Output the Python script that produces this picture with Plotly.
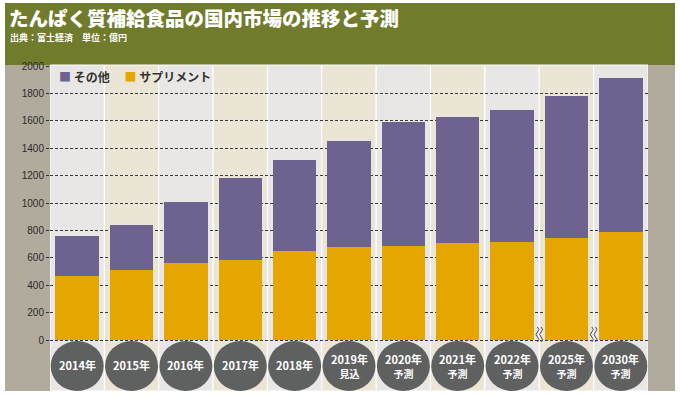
import plotly.graph_objects as go

years = ["2014年", "2015年", "2016年", "2017年", "2018年", "2019年", "2020年",
         "2021年", "2022年", "2025年", "2030年"]
notes = ["", "", "", "", "", "見込", "予測", "予測", "予測", "予測", "予測"]
supplement = [465, 510, 565, 582, 647, 679, 686, 708, 718, 742, 786]
other = [296, 332, 445, 603, 669, 776, 902, 917, 963, 1039, 1126]
yticks = [0, 200, 400, 600, 800, 1000, 1200, 1400, 1600, 1800, 2000]
break_after = [8, 9]  # axis breaks between 2022/2025 and 2025/2030

W, H = 680, 396
ML, MR, MT, MB = 50, 32, 65, 5
PW, PH = W - ML - MR, H - MT - MB

def px_x(p):
    return (p - ML) / PW

def px_y(p):
    return (H - MB - p) / PH

C_OTHER = "#6e6291"
C_SUPP = "#e6a600"
C_OLIVE = "#707b2c"
C_SIDE = "#b1ab9d"
C_COL_A = "#e9e7e5"
C_COL_B = "#ebe5d5"
C_CIRCLE = "#5f6060"
FONT_JP = "Noto Sans CJK JP"

xs = list(range(len(years)))

fig = go.Figure()
fig.add_trace(go.Bar(x=xs, y=supplement, name="サプリメント", marker_color=C_SUPP,
                     marker_line_width=0, width=0.8, hoverinfo="skip"))
fig.add_trace(go.Bar(x=xs, y=other, name="その他", marker_color=C_OTHER,
                     marker_line_width=0, width=0.8, hoverinfo="skip"))

shapes = []
# olive header band
shapes.append(dict(type="rect", xref="paper", yref="paper", x0=px_x(5), x1=px_x(675),
                   y0=px_y(65), y1=px_y(3), fillcolor=C_OLIVE, line_width=0, layer="below"))
# side bands
shapes.append(dict(type="rect", xref="paper", yref="paper", x0=px_x(5), x1=0,
                   y0=0, y1=1, fillcolor=C_SIDE, line_width=0, layer="below"))
shapes.append(dict(type="rect", xref="paper", yref="paper", x0=px_x(648), x1=px_x(675),
                   y0=0, y1=1, fillcolor=C_SIDE, line_width=0, layer="below"))
# column backgrounds
for i in xs:
    shapes.append(dict(type="rect", xref="x", yref="paper", x0=i - 0.5, x1=i + 0.5,
                       y0=0, y1=1, fillcolor=C_COL_A if i % 2 == 0 else C_COL_B,
                       line=dict(color="white", width=1), layer="below"))
# circles
for i in xs:
    shapes.append(dict(type="circle", xref="x", yref="y", xsizemode="pixel", ysizemode="pixel",
                       xanchor=i, yanchor=0, x0=-26.5, x1=26.5, y0=-51, y1=-1,
                       fillcolor=C_CIRCLE, line_width=0, layer="above"))
# break squiggles
for b in break_after:
    for dx in (-1.8, 1.8):
        path = (f"M {dx},-2 Q {dx+3},0.5 {dx},3 Q {dx-3},5.5 {dx},8 "
                f"Q {dx+3},10.5 {dx},13")
        shapes.append(dict(type="path", xref="x", yref="y", xsizemode="pixel",
                           ysizemode="pixel", xanchor=b + 0.5, yanchor=0, path=path,
                           line=dict(color="#4a4a5a", width=1), layer="above"))

annotations = []
annotations.append(dict(xref="paper", yref="paper", x=px_x(7), y=px_y(18), xanchor="left",
                        yanchor="middle", showarrow=False,
                        text="たんぱく質補給食品の国内市場の推移と予測",
                        font=dict(family=FONT_JP, size=19.5, color="white", weight=900)))
annotations.append(dict(xref="paper", yref="paper", x=px_x(8), y=px_y(37), xanchor="left",
                        yanchor="middle", showarrow=False,
                        text="出典：富士経済　単位：億円",
                        font=dict(family=FONT_JP, size=9, color="white", weight=700)))
annotations.append(dict(xref="paper", yref="paper", x=px_x(57), y=px_y(76), xanchor="left",
                        yanchor="middle", showarrow=False,
                        text=(f"<span style='color:{C_OTHER}'>■</span> その他　 "
                              f"<span style='color:{C_SUPP}'>■</span> サプリメント"),
                        font=dict(family=FONT_JP, size=12, color="#333333", weight=700)))
for i, (yr, nt) in enumerate(zip(years, notes)):
    if nt:
        txt = f"{yr}<br><span style='font-size:10px'>{nt}</span>"
        yoff = -188
    else:
        txt = yr
        yoff = -186
    annotations.append(dict(xref="x", yref="y", x=i, y=yoff, xanchor="center",
                            yanchor="middle", showarrow=False, text=txt,
                            font=dict(family=FONT_JP, size=11, color="white", weight=700)))

y0_px, y2000_px = 340, 66
upp = 2000 / (y0_px - y2000_px)
ymin = -(H - MB - y0_px) * upp
ymax = 2000 + (y2000_px - MT) * upp

fig.update_layout(
    width=W, height=H, margin=dict(l=ML, r=MR, t=MT, b=MB),
    paper_bgcolor="white", plot_bgcolor="rgba(0,0,0,0)",
    barmode="stack", showlegend=False, bargap=0.2, hovermode=False,
    shapes=shapes, annotations=annotations,
    xaxis=dict(range=[-0.5, len(years) - 0.5], showticklabels=False, showgrid=False,
               zeroline=False, fixedrange=True),
    yaxis=dict(range=[ymin, ymax], tickvals=yticks, ticks="outside", ticklen=3,
               tickcolor="#333333", showgrid=True, gridcolor="#3a3a3a", gridwidth=1,
               griddash="3px,2px", zeroline=False, showline=False, fixedrange=True,
               tickfont=dict(family="Liberation Sans Narrow, Liberation Sans, Arial",
                             size=10, color="#2a2a2a")),
)

fig.write_html("out.html", config={"displayModeBar": False, "staticPlot": True},
               post_script="document.body.style.margin='0';document.body.style.overflow='hidden';")
